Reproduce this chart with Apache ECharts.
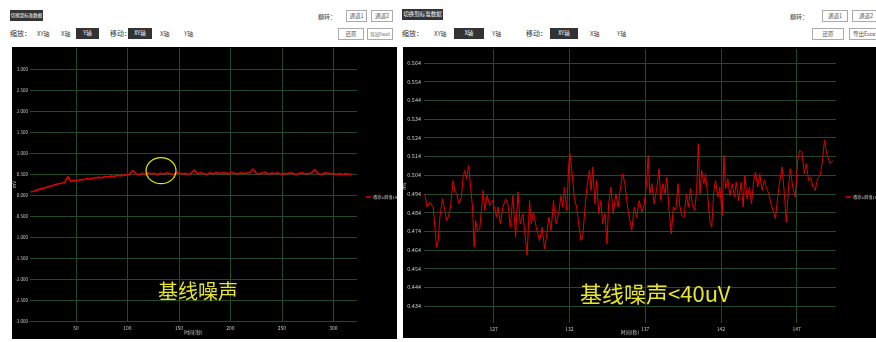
<!DOCTYPE html>
<html><head><meta charset="utf-8">
<script src="https://cdn.jsdelivr.net/npm/echarts@6/dist/echarts.min.js"></script>
<style>
html,body{margin:0;padding:0;background:#fff;width:876px;height:342px;overflow:hidden;font-family:"Noto Sans CJK SC","Noto Sans",sans-serif;}
.t{position:absolute;font-size:6px;color:#444;line-height:11px;white-space:nowrap;}
.lbl{font-size:7px;color:#333;}
.dk{position:absolute;background:#333;color:#fff;font-size:5.5px;text-align:center;line-height:11px;height:11px;white-space:nowrap;overflow:hidden;}
.ol{position:absolute;border:1px solid #aaa;background:#fff;color:#555;font-size:5.5px;text-align:center;line-height:10px;height:10px;white-space:nowrap;overflow:hidden;}
.chart{position:absolute;background:#000;}
</style></head><body>
<!-- left toolbar -->
<div class="dk" style="left:10px;top:10px;width:33px;font-size:4.5px;">切换到标准数据</div>
<div class="t lbl" style="left:10px;top:28px;">缩放：</div>
<div class="t" style="left:37px;top:28px;">XY轴</div>
<div class="t" style="left:61px;top:28px;">X轴</div>
<div class="dk" style="left:76px;top:28px;width:23px;">Y轴</div>
<div class="t lbl" style="left:110px;top:28px;">移动：</div>
<div class="dk" style="left:128px;top:28px;width:24px;">XY轴</div>
<div class="t" style="left:160px;top:28px;">X轴</div>
<div class="t" style="left:184px;top:28px;">Y轴</div>
<div class="t" style="left:318px;top:11px;">翻转：</div>
<div class="ol" style="left:346px;top:10px;width:19px;">通道1</div>
<div class="ol" style="left:371px;top:10px;width:20px;">通道2</div>
<div class="ol" style="left:338px;top:28px;width:24px;">还原</div>
<div class="ol" style="left:367px;top:28px;width:24px;font-size:4.5px;">导出Excel</div>
<!-- right toolbar -->
<div class="dk" style="left:402px;top:9px;width:41px;">切换到标准数据</div>
<div class="t lbl" style="left:402px;top:28px;">缩放：</div>
<div class="t" style="left:434px;top:28px;">XY轴</div>
<div class="dk" style="left:454px;top:28px;width:30px;">X轴</div>
<div class="t" style="left:492px;top:28px;">Y轴</div>
<div class="t lbl" style="left:526px;top:28px;">移动：</div>
<div class="dk" style="left:550px;top:28px;width:28px;">XY轴</div>
<div class="t" style="left:590px;top:28px;">X轴</div>
<div class="t" style="left:617px;top:28px;">Y轴</div>
<div class="t" style="left:790px;top:11px;">翻转：</div>
<div class="ol" style="left:822px;top:10px;width:24px;">通道1</div>
<div class="ol" style="left:852px;top:10px;width:26px;">通道2</div>
<div class="ol" style="left:812px;top:28px;width:30px;">还原</div>
<div class="ol" style="left:849px;top:28px;width:30px;">导出Excel</div>

<div id="c1" class="chart" style="left:12px;top:47px;width:385px;height:292px;"></div>
<div id="c2" class="chart" style="left:403px;top:47px;width:473px;height:291px;"></div>
<script>
// ---- left chart data ----
const leftXTicks = [50, 100, 150, 200, 250, 300];
const leftYTicks = [-3, -2.5, -2, -1.5, -1, -0.5, 0, 0.5, 1, 1.5, 2, 2.5, 3];
const leftTimes = [6,9,12,15,18,21,24,27,30,33,36,39,42,45,48,51,54,57,60,63,66,69,72,75,78,81,84,87,90,93,96,99,102,105,108,111,114,117,120,123,126,129,132,135,138,141,144,147,150,153,156,159,162,165,168,171,174,177,180,183,186,189,192,195,198,201,204,207,210,213,216,219,222,225,228,231,234,237,240,243,246,249,252,255,258,261,264,267,270,273,276,279,282,285,288,291,294,297,300,303,306,309,312,315,318];
const leftValues = [0.07,0.09,0.12,0.14,0.16,0.18,0.21,0.22,0.25,0.27,0.28,0.30,0.44,0.32,0.35,0.34,0.37,0.36,0.39,0.38,0.40,0.41,0.42,0.41,0.44,0.43,0.45,0.44,0.47,0.45,0.48,0.47,0.49,0.59,0.51,0.48,0.52,0.49,0.53,0.50,0.52,0.49,0.52,0.50,0.53,0.51,0.49,0.52,0.53,0.50,0.52,0.49,0.52,0.60,0.50,0.53,0.51,0.49,0.53,0.50,0.54,0.51,0.52,0.53,0.50,0.54,0.52,0.50,0.53,0.51,0.52,0.54,0.62,0.52,0.50,0.53,0.54,0.50,0.52,0.51,0.53,0.49,0.52,0.50,0.53,0.51,0.49,0.52,0.53,0.50,0.51,0.53,0.61,0.51,0.49,0.52,0.53,0.50,0.52,0.49,0.51,0.48,0.51,0.49,0.50];
// ---- right chart data ----
const rightXTicks = [127, 132, 137, 142, 147];
const rightYTicks = [0.434, 0.444, 0.454, 0.464, 0.474, 0.484, 0.494, 0.504, 0.514, 0.524, 0.534, 0.544, 0.554, 0.564];
const rightTimes = [122.45,122.60,122.79,123.01,123.12,123.23,123.34,123.45,123.62,123.78,123.89,124.00,124.15,124.32,124.43,124.54,124.72,124.87,124.98,125.09,125.20,125.35,125.46,125.60,125.71,125.81,125.92,126.08,126.19,126.30,126.41,126.56,126.74,126.91,127.07,127.18,127.29,127.44,127.61,127.79,127.94,128.10,128.27,128.45,128.60,128.75,128.93,129.11,129.21,129.37,129.48,129.63,129.81,130.03,130.20,130.36,130.51,130.64,130.79,130.95,131.12,131.30,131.45,131.56,131.67,131.82,131.96,132.04,132.18,132.33,132.48,132.61,132.77,132.88,133.03,133.16,133.32,133.43,133.54,133.69,133.80,133.93,134.08,134.19,134.35,134.48,134.59,134.74,134.89,135.07,135.22,135.35,135.51,135.66,135.84,135.99,136.12,136.28,136.43,136.61,136.78,136.93,137.09,137.20,137.31,137.44,137.59,137.75,137.92,138.03,138.18,138.32,138.43,138.58,138.73,138.86,139.02,139.17,139.28,139.41,139.57,139.72,139.85,140.00,140.11,140.27,140.40,140.51,140.62,140.73,140.88,140.99,141.14,141.28,141.39,141.54,141.65,141.80,141.93,142.09,142.20,142.31,142.46,142.59,142.75,142.90,143.01,143.18,143.34,143.47,143.58,143.73,143.89,144.02,144.17,144.28,144.43,144.57,144.72,144.87,145.00,145.16,145.31,145.44,145.60,145.75,145.88,146.04,146.19,146.32,146.47,146.58,146.74,146.91,147.07,147.20,147.35,147.51,147.64,147.79,147.94,148.08,148.23,148.38,148.56,148.71,148.84,148.99,149.21,149.44];
const rightValues = [0.4940,0.4870,0.4895,0.4869,0.4761,0.4654,0.4690,0.4815,0.4913,0.4851,0.4797,0.4815,0.4869,0.5011,0.4958,0.4940,0.4886,0.4922,0.5029,0.5065,0.5020,0.5092,0.4994,0.4869,0.4654,0.4797,0.4744,0.4752,0.4744,0.4958,0.4851,0.4931,0.4878,0.4904,0.4860,0.4815,0.4869,0.4779,0.4869,0.4913,0.4886,0.4761,0.4931,0.4708,0.4949,0.4779,0.4833,0.4690,0.4610,0.4904,0.4779,0.4842,0.4761,0.4690,0.4761,0.4645,0.4726,0.4815,0.4744,0.4904,0.4779,0.4842,0.4931,0.4869,0.4976,0.4851,0.5101,0.5154,0.5047,0.4913,0.4869,0.4779,0.4690,0.4708,0.4869,0.4976,0.5065,0.4958,0.5083,0.4886,0.5011,0.4833,0.4904,0.4779,0.4833,0.4672,0.4886,0.4976,0.4833,0.4940,0.4869,0.4958,0.5047,0.4994,0.4869,0.4797,0.4744,0.4869,0.4815,0.4904,0.4842,0.4878,0.4994,0.5145,0.4940,0.4994,0.4886,0.4958,0.5074,0.4904,0.4994,0.4940,0.5029,0.4851,0.4726,0.4869,0.4851,0.4994,0.4878,0.4824,0.4815,0.4940,0.4869,0.4967,0.4886,0.4851,0.4958,0.5208,0.4940,0.5065,0.4994,0.5047,0.4922,0.4788,0.4761,0.4958,0.5011,0.4922,0.4976,0.4824,0.5145,0.4967,0.5020,0.4931,0.4994,0.4922,0.5002,0.4904,0.5002,0.4869,0.5038,0.4913,0.4976,0.4886,0.5011,0.5056,0.4976,0.5047,0.4958,0.5011,0.4976,0.4940,0.4886,0.4851,0.4806,0.4922,0.5002,0.5083,0.4940,0.4788,0.4976,0.5074,0.4976,0.4922,0.5119,0.5172,0.5163,0.5047,0.5101,0.5011,0.5029,0.4976,0.4958,0.5020,0.5038,0.5119,0.5226,0.5154,0.5101,0.5119];
const seriesName = '通道1(峰值1902)';

const FONT = '"Noto Sans CJK SC","Noto Sans",sans-serif';
const GRID_COLOR = '#224a27';
const TXT = '#c8c8c8';
function zip(a, b) { return a.map((v, i) => [v, b[i]]); }

function makeOption(cfg) {
  return {
    backgroundColor: '#000',
    animation: false,
    grid: Object.assign({ containLabel: false, outerBoundsMode: 'none' }, cfg.grid),
    legend: {
      data: [seriesName], left: cfg.legendLeft, top: cfg.legendTop,
      orient: 'vertical', icon: 'rect', itemWidth: 5, itemHeight: 1.5, itemGap: 2,
      textStyle: { color: TXT, fontSize: 4, fontFamily: FONT, padding: [0, 0, 0, -3] }
    },
    xAxis: {
      type: 'value', min: cfg.xMin, max: cfg.xMax,
      name: '时间(秒)', nameLocation: 'middle', nameGap: cfg.nameGapX, nameMoveOverlap: false,
      nameTextStyle: { color: TXT, fontSize: 5, fontFamily: FONT },
      axisLine: { show: false },
      axisTick: { show: false, customValues: cfg.xTicks },
      axisLabel: { customValues: cfg.xTicks, color: TXT, fontSize: 5, fontFamily: FONT, margin: cfg.xMargin },
      splitLine: { show: true, lineStyle: { color: GRID_COLOR, width: 1 } }
    },
    yAxis: {
      type: 'value', min: cfg.yMin, max: cfg.yMax,
      name: 'mV', nameLocation: 'middle', nameGap: cfg.nameGapY, nameRotate: 90, nameMoveOverlap: false,
      nameTextStyle: { color: TXT, fontSize: 5, fontFamily: FONT },
      axisLine: { show: false },
      axisTick: { show: false, customValues: cfg.yTicks },
      axisLabel: { customValues: cfg.yTicks, color: TXT, fontSize: cfg.yFont, fontFamily: FONT, margin: cfg.yMargin,
        formatter: v => v.toFixed(3) },
      splitLine: { show: true, lineStyle: { color: GRID_COLOR, width: 1 } }
    },
    series: [{
      name: seriesName, type: 'line', showSymbol: false, symbol: 'none',
      data: cfg.data, color: '#e00000',
      lineStyle: { color: '#e00000', width: cfg.lineWidth }
    }]
  };
}

const c1 = echarts.init(document.getElementById('c1'));
c1.setOption(makeOption({
  grid: { left: 18, right: 40, top: 1, bottom: 18 },
  legendLeft: 349, legendTop: 143,
  xMin: 5.3, xMax: 323, yMin: -3, yMax: 3.5,
  xTicks: leftXTicks, yTicks: leftYTicks,
  nameGapX: 9, nameGapY: 13, xMargin: 5, yMargin: 2, yFont: 4.5,
  data: zip(leftTimes, leftValues), lineWidth: 1.6
}));
const ell = c1.convertToPixel({ gridIndex: 0 }, [132.6, 0.58]);
c1.setOption({ graphic: [
  { type: 'ellipse', shape: { cx: ell[0], cy: ell[1], rx: 15, ry: 13 },
    style: { fill: 'none', stroke: '#e6e600', lineWidth: 1.2 }, z: 100 },
  { type: 'text', left: 146, top: 234, z: 100,
    style: { text: '基线噪声', fill: '#e6e62e', font: '20px ' + FONT } }
]});

const c2 = echarts.init(document.getElementById('c2'));
c2.setOption(makeOption({
  grid: { left: 21, right: 40, top: 2, bottom: 15 },
  legendLeft: 438, legendTop: 143,
  xMin: 122.4, xMax: 149.6, yMin: 0.4249, yMax: 0.5714,
  xTicks: rightXTicks, yTicks: rightYTicks,
  nameGapX: 7, nameGapY: 17, xMargin: 4, yMargin: 3, yFont: 5.5,
  data: zip(rightTimes, rightValues), lineWidth: 1
}));
c2.setOption({ graphic: [
  { type: 'text', left: 177, top: 236, z: 100,
    style: { text: '基线噪声<40uV', fill: '#e6e62e', font: '22px ' + FONT } }
]});
</script>
</body></html>
